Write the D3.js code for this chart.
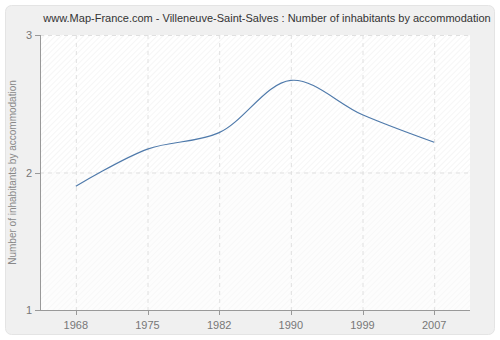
<!DOCTYPE html>
<html><head><meta charset="utf-8">
<script src="https://cdn.jsdelivr.net/npm/d3@7"></script>
<style>body{margin:0;background:#fff}svg{display:block}</style>
</head><body>
<svg id="c" width="500" height="340"></svg>
<script>
const title = "www.Map-France.com - Villeneuve-Saint-Salves : Number of inhabitants by accommodation";
const yLabel = "Number of inhabitants by accommodation";
const years = ["1968","1975","1982","1990","1999","2007"];
const values = [1.90, 2.17, 2.29, 2.67, 2.42, 2.22];
const yTicks = [1, 2, 3];

const svg = d3.select("#c");
const m = {l:40, r:470, t:35, b:310};
const font = "Liberation Sans, Arial, sans-serif";

svg.append("rect").attr("x",5.5).attr("y",5.5).attr("width",489).attr("height",329)
  .attr("rx",6).attr("fill","#f0f0f0").attr("stroke","#e4e4e4");

const defs = svg.append("defs");
function hatch(id, bg, line){
  const p = defs.append("pattern").attr("id",id).attr("patternUnits","userSpaceOnUse")
    .attr("width",4).attr("height",4).attr("patternTransform","rotate(45)");
  p.append("rect").attr("width",4).attr("height",4).attr("fill",bg);
  p.append("line").attr("x1",0).attr("y1",0).attr("x2",0).attr("y2",4).attr("stroke",line).attr("stroke-width",1);
}
hatch("h1","#ffffff","#ededed");
hatch("h2","#fdfdfd","#f4f4f4");

const x = d3.scaleBand().domain(years).range([m.l, m.r]);
const y = d3.scaleLinear().domain([1,3]).range([m.b, m.t]);
const cx = d => x(d) + x.bandwidth()/2;

svg.append("rect").attr("x",m.l).attr("y",y(3)).attr("width",m.r-m.l).attr("height",y(2)-y(3)).attr("fill","url(#h1)");
svg.append("rect").attr("x",m.l).attr("y",y(2)).attr("width",m.r-m.l).attr("height",y(1)-y(2)).attr("fill","url(#h2)");

// grid
const g = svg.append("g").attr("stroke","#e0e0e0").attr("stroke-dasharray","4,4");
years.forEach(d => g.append("line").attr("x1",cx(d)+0.5).attr("x2",cx(d)+0.5).attr("y1",m.t).attr("y2",m.b));
yTicks.slice(1).forEach(v => g.append("line").attr("x1",m.l).attr("x2",m.r).attr("y1",y(v)+0.5).attr("y2",y(v)+0.5));

// line
const line = d3.line().x((d,i)=>cx(years[i])).y(d=>y(d)).curve(d3.curveCatmullRom.alpha(0.5));
svg.append("path").datum(values).attr("d",line).attr("fill","none").attr("stroke","#4f7aab").attr("stroke-width",1.2);

// axes
const ax = svg.append("g").attr("stroke","#999").attr("shape-rendering","crispEdges");
ax.append("line").attr("x1",m.l+0.5).attr("x2",m.l+0.5).attr("y1",m.t).attr("y2",m.b+0.5);
ax.append("line").attr("x1",m.l).attr("x2",m.r).attr("y1",m.b+0.5).attr("y2",m.b+0.5);
yTicks.forEach(v => ax.append("line").attr("x1",m.l-5).attr("x2",m.l).attr("y1",y(v)+0.5).attr("y2",y(v)+0.5));
years.forEach(d => ax.append("line").attr("x1",cx(d)+0.5).attr("x2",cx(d)+0.5).attr("y1",m.b).attr("y2",m.b+5));

const t = svg.append("g").attr("font-family",font).attr("font-size",11).attr("fill","#777");
yTicks.forEach(v => t.append("text").attr("x",m.l-8).attr("y",y(v)+4).attr("text-anchor","end").text(v));
years.forEach(d => t.append("text").attr("x",cx(d)).attr("y",m.b+19).attr("text-anchor","middle").text(d));
t.append("text").attr("transform",`translate(16,${(m.t+m.b)/2}) rotate(-90)`).attr("text-anchor","middle")
  .attr("font-size",10).attr("fill","#888").text(yLabel);

svg.append("text").attr("x",267).attr("y",22).attr("text-anchor","middle").attr("font-family",font)
  .attr("font-size",11).attr("fill","#333").text(title);
</script>
</body></html>
